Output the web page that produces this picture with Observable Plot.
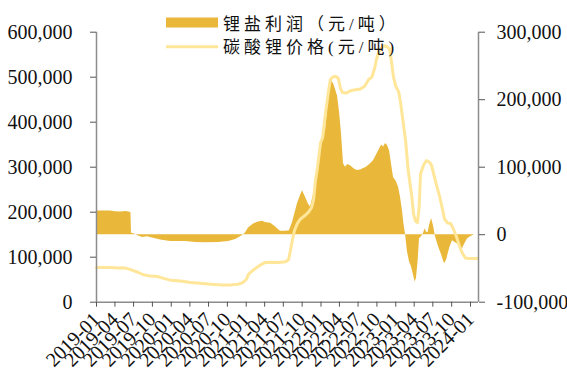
<!DOCTYPE html>
<html>
<head>
<meta charset="utf-8">
<script src="https://cdn.jsdelivr.net/npm/d3@7"></script>
<script src="https://cdn.jsdelivr.net/npm/@observablehq/plot@0.6"></script>
<style>
  html, body { margin: 0; padding: 0; background: #fff; }
  #wrap { position: relative; width: 567px; height: 374px; overflow: hidden; }
  #legend { position: absolute; left: 0; top: 0; }
</style>
</head>
<body>
<div id="wrap"></div>
<script>
// ---- data ----
const seriesNames = ["锂盐利润（元/吨）", "碳酸锂价格(元/吨)"];

const profitDates = ["2019-01-01","2019-03-10","2019-04-03","2019-04-28","2019-05-27","2019-06-18","2019-06-21","2019-07-06","2019-07-25","2019-08-14","2019-09-07","2019-10-01","2019-11-10","2019-12-28","2020-03-11","2020-04-28","2020-06-16","2020-08-19","2020-10-07","2020-11-10","2020-12-04","2020-12-19","2020-12-29","2021-01-12","2021-02-06","2021-03-02","2021-03-22","2021-04-05","2021-04-30","2021-05-19","2021-06-03","2021-06-17","2021-07-12","2021-07-31","2021-08-15","2021-08-30","2021-09-08","2021-09-23","2021-10-03","2021-10-18","2021-11-01","2021-11-11","2021-11-26","2021-12-10","2021-12-20","2021-12-30","2022-01-09","2022-01-23","2022-02-02","2022-02-12","2022-02-21","2022-03-03","2022-03-13","2022-03-23","2022-04-02","2022-04-11","2022-04-21","2022-05-01","2022-05-11","2022-05-25","2022-06-14","2022-06-28","2022-07-13","2022-07-28","2022-08-11","2022-08-31","2022-09-15","2022-09-29","2022-10-14","2022-10-24","2022-11-03","2022-11-12","2022-11-22","2022-12-02","2022-12-11","2022-12-21","2023-01-05","2023-01-15","2023-01-24","2023-02-03","2023-02-10","2023-02-18","2023-02-27","2023-03-09","2023-03-19","2023-03-29","2023-04-05","2023-04-12","2023-04-20","2023-04-27","2023-05-07","2023-05-17","2023-05-24","2023-05-31","2023-06-08","2023-06-15","2023-06-25","2023-07-05","2023-07-14","2023-07-29","2023-08-13","2023-08-27","2023-09-06","2023-09-21","2023-10-05","2023-10-20","2023-11-04","2023-11-18","2023-12-03","2023-12-18","2024-01-01","2024-01-21"];
const profitValues = [35000,35000,34000,33500,34500,33000,2000,1000,-2000,-4000,-3000,-5000,-8000,-10000,-10000,-11500,-12000,-11500,-10000,-7000,-3000,0,3000,10000,16000,19000,20000,18000,17000,13000,9000,5000,5000,6000,18000,35000,46000,58000,65000,55000,45000,41000,60000,85000,105000,125000,140000,154000,185000,215000,228000,224000,215000,205000,180000,150000,105000,100000,104000,102000,97000,95000,96000,98000,100000,105000,110000,118000,127000,133000,130000,135000,132000,124000,105000,85000,78000,70000,56000,35000,16000,0,-25000,-40000,-48000,-60000,-70000,-65000,-40000,-6000,-3000,2000,9000,4000,3000,14000,24000,12000,-3000,-18000,-30000,-43000,-38000,-20000,-9000,-12000,-15000,-24000,-14000,-6000,-3000,0];

const priceDates = ["2019-01-01","2019-03-10","2019-04-18","2019-05-12","2019-06-06","2019-06-30","2019-07-25","2019-08-18","2019-09-22","2019-10-26","2019-11-24","2019-12-28","2020-02-15","2020-04-04","2020-05-20","2020-07-12","2020-08-30","2020-10-20","2020-11-23","2020-12-13","2021-01-01","2021-01-12","2021-02-01","2021-02-21","2021-03-13","2021-04-01","2021-04-30","2021-06-08","2021-07-12","2021-07-27","2021-08-05","2021-08-15","2021-08-25","2021-09-08","2021-09-23","2021-10-13","2021-11-01","2021-11-16","2021-11-26","2021-12-05","2021-12-15","2021-12-30","2022-01-09","2022-01-23","2022-02-07","2022-02-16","2022-02-26","2022-03-13","2022-03-27","2022-04-06","2022-04-16","2022-05-06","2022-05-25","2022-06-19","2022-07-13","2022-08-02","2022-08-22","2022-09-06","2022-09-20","2022-09-29","2022-10-09","2022-10-24","2022-11-07","2022-11-22","2022-12-02","2022-12-11","2022-12-21","2023-01-01","2023-01-15","2023-01-24","2023-02-03","2023-02-18","2023-03-03","2023-03-19","2023-03-29","2023-04-08","2023-04-17","2023-04-25","2023-05-02","2023-05-17","2023-05-31","2023-06-15","2023-06-25","2023-07-05","2023-07-19","2023-08-03","2023-08-18","2023-08-27","2023-09-11","2023-09-26","2023-10-10","2023-10-25","2023-11-08","2023-11-23","2023-12-08","2023-12-23","2024-01-11","2024-02-05"];
const priceValues = [77000,77000,76000,76500,74000,70000,66000,61000,58000,57000,53000,49000,47000,44000,42000,40000,38500,38500,40000,43000,50000,62000,70000,77000,83000,88000,89000,88000,90000,95000,115000,140000,160000,175000,185000,192000,200000,210000,228000,270000,300000,355000,365000,420000,470000,495000,500000,502000,497000,475000,466000,465000,470000,472000,474000,480000,495000,500000,520000,540000,555000,565000,570000,567000,562000,535000,500000,480000,468000,445000,411000,359000,292000,240000,195000,180000,177000,210000,285000,305000,315000,311000,304000,285000,260000,235000,205000,185000,176000,175000,162000,145000,125000,108000,98000,97000,97000,97000];

const leftTicks = [0, 100000, 200000, 300000, 400000, 500000, 600000];
const rightTicks = [-100000, 0, 100000, 200000, 300000];
const xTickLabels = ["2019-01","2019-04","2019-07","2019-10","2020-01","2020-04","2020-07","2020-10","2021-01","2021-04","2021-07","2021-10","2022-01","2022-04","2022-07","2022-10","2023-01","2023-04","2023-07","2023-10","2024-01"];

// ---- build ----
const parse = d3.utcParse("%Y-%m-%d");
const profit = profitDates.map((d, i) => ({date: parse(d), v: profitValues[i]}));
const price = priceDates.map((d, i) => ({date: parse(d), v: priceValues[i]}));
// right axis (-100k..300k) mapped onto left axis (0..600k)
const toLeft = p => (p + 100000) * 1.5;
const fromLeft = v => v / 1.5 - 100000;
const fmt = v => (v < 0 ? "-" : "") + d3.format(",")(Math.abs(Math.round(v)));

const x0 = parse("2019-01-01"), x1 = parse("2024-02-09");
const gold = "#E9B83B", pale = "#FFE699", axisGray = "#8c8c8c";

const chart = Plot.plot({
  width: 567,
  height: 374,
  marginLeft: 96,
  marginRight: 89,
  marginTop: 31.7,
  marginBottom: 72.3,
  style: {fontFamily: "'Liberation Serif', 'Noto Sans CJK SC', serif", fontSize: "20px", color: "#111", background: "transparent"},
  x: {type: "utc", domain: [x0, x1]},
  y: {domain: [0, 600000]},
  marks: [
    Plot.areaY(profit, {x: "date", y1: () => toLeft(0), y2: d => toLeft(d.v), fill: gold}),
    Plot.lineY(price, {x: "date", y: "v", stroke: pale, strokeWidth: 3}),
    Plot.ruleX([x0, x1], {stroke: axisGray, strokeWidth: 1.5}),
    Plot.ruleY([0], {stroke: axisGray, strokeWidth: 1.5}),
    Plot.axisY({ticks: leftTicks, tickFormat: fmt, tickSize: 6, tickPadding: 18, stroke: "#555", label: null, fontSize: 20}),
    Plot.axisY({anchor: "right", ticks: rightTicks.map(toLeft), tickFormat: v => fmt(fromLeft(v)), tickSize: 6, tickPadding: 12, stroke: "#555", label: null, fontSize: 20}),
    Plot.axisX({ticks: xTickLabels.map(s => parse(s + "-01")), tickFormat: d3.utcFormat("%Y-%m"), tickRotate: -45, tickSize: 5, tickPadding: 9, stroke: "#555", label: null, fontSize: 20})
  ]
});
const wrap = document.getElementById("wrap");
wrap.appendChild(chart);

// legend overlay
const ns = "http://www.w3.org/2000/svg";
const leg = document.createElementNS(ns, "svg");
leg.setAttribute("id", "legend");
leg.setAttribute("width", 567);
leg.setAttribute("height", 60);
const r = document.createElementNS(ns, "rect");
r.setAttribute("x", 166); r.setAttribute("y", 17.5); r.setAttribute("width", 52); r.setAttribute("height", 10); r.setAttribute("fill", gold);
leg.appendChild(r);
const l = document.createElementNS(ns, "line");
l.setAttribute("x1", 166); l.setAttribute("x2", 218); l.setAttribute("y1", 46.7); l.setAttribute("y2", 46.7);
l.setAttribute("stroke", pale); l.setAttribute("stroke-width", 3);
leg.appendChild(l);
[[seriesNames[0], 29.5], [seriesNames[1], 53]].forEach(([t, y]) => {
  const tx = document.createElementNS(ns, "text");
  tx.setAttribute("x", 223); tx.setAttribute("y", y);
  tx.setAttribute("font-family", "'Liberation Serif', 'Noto Sans CJK SC', serif");
  tx.setAttribute("font-size", "17px");
  tx.setAttribute("letter-spacing", "4px");
  tx.setAttribute("fill", "#111");
  tx.textContent = t;
  leg.appendChild(tx);
});
wrap.appendChild(leg);
</script>
</body>
</html>
